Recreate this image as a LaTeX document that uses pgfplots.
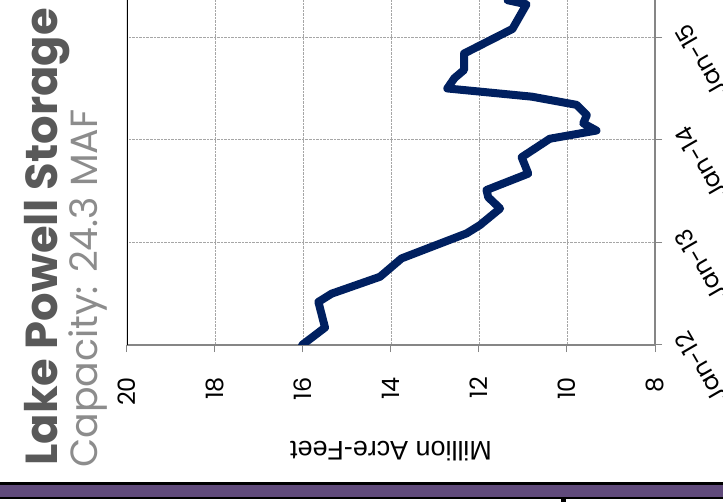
\documentclass[border=0pt]{standalone}
\usepackage{graphicx}
\usepackage{fontspec}
\setmainfont{Poppins}
\newfontfamily\arialfont{Liberation Sans}
\usepackage{pgfplots}
\pgfplotsset{compat=1.18}

\definecolor{titlegray}{HTML}{595959}
\definecolor{subgray}{HTML}{8C8C8C}
\definecolor{lineblue}{HTML}{002060}
\definecolor{bandpurple}{HTML}{604A7B}
\definecolor{axisgray}{HTML}{868686}
\definecolor{gridgray}{HTML}{A6A6A6}

\begin{document}
\rotatebox{90}{%
\begin{tikzpicture}
  \path[use as bounding box, clip] (0bp,0bp) rectangle (502bp,723bp);

  % band of the page frame
  \fill[black] (0bp,0bp) rectangle (19.5bp,723bp);
  \fill[bandpurple] (5bp,0bp) rectangle (16.5bp,723bp);
  \fill[white] (0bp,0bp) rectangle (3bp,157bp);
  \fill[white] (0bp,162bp) rectangle (3bp,723bp);

  \node[anchor=base west, text=titlegray, inner sep=0pt,
        font=\fontsize{45}{45}\selectfont\bfseries] at (36bp,665bp) {Lake Powell Storage};
  \node[anchor=base west, text=subgray, inner sep=0pt,
        font=\fontsize{38}{38}\selectfont] at (34bp,625bp) {Capacity: 24.3 MAF};

  \begin{axis}[
      at={(157bp,68bp)}, anchor=south west,
      scale only axis, width=431bp, height=528bp,
      xmin=0, xmax=4.2, ymin=8, ymax=20,
      xtick={0,1,2,3,4},
      xticklabels={Jan-12,Jan-13,Jan-14,Jan-15,Jan-16},
      ytick={8,10,...,20},
      axis x line*=bottom, axis y line*=left,
      axis line style={axisgray, line width=1.2bp},
      tick align=outside, major tick length=7bp,
      tick style={axisgray, line width=1bp},
      grid=major,
      grid style={densely dotted, gridgray, line width=0.9bp},
      /pgf/number format/assume math mode=true,
      yticklabel style={font=\fontsize{24}{24}\selectfont, text=black,
                        anchor=east, inner sep=0pt, xshift=-25bp},
      xticklabel style={font=\fontsize{24}{24}\selectfont, text=black,
                        rotate=30, anchor=north east, inner sep=0pt,
                        yshift=-13bp},
      ylabel={Million Acre-Feet},
      ylabel style={at={(axis description cs:-0.225,0.5)}, anchor=base,
                    font=\arialfont\fontsize{27}{27}\selectfont},
    ]
    \draw[black, line width=1.5bp] (rel axis cs:0,1) -- (rel axis cs:1,1);
    \addplot[color=lineblue, line width=8bp, line join=round, line cap=round]
      coordinates {
        (0.000,16.02) (0.170,15.50) (0.420,15.65) (0.500,15.35)
        (0.665,14.25) (0.844,13.76) (1.088,12.28) (1.168,11.98)
        (1.330,11.52) (1.440,11.79) (1.510,11.83) (1.670,10.88)
        (1.830,11.03) (2.010,10.39) (2.090,9.33) (2.160,9.63)
        (2.240,9.55) (2.340,9.78) (2.420,10.80) (2.500,12.72)
        (2.600,12.56) (2.680,12.34) (2.840,12.34) (3.080,11.24)
        (3.320,10.92) (3.360,11.35)
      };
  \end{axis}
\end{tikzpicture}}
\end{document}
